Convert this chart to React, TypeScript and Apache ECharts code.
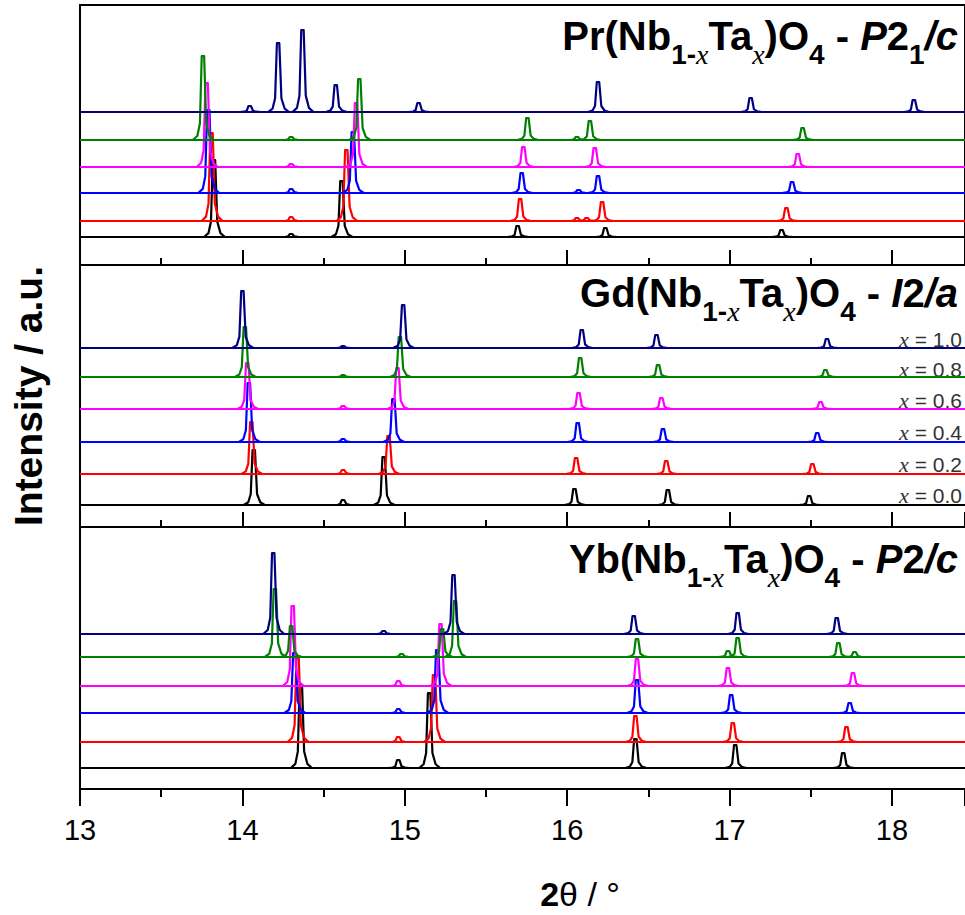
import React, { useEffect, useRef } from "react";
import * as echarts from "echarts";

// ---- axis ----
const X_MIN = 13;
const X_MAX = 18.45;
const xTickInterval = 1;

// ---- compositions (bottom to top) ----
const compositions = ["x = 0.0", "x = 0.2", "x = 0.4", "x = 0.6", "x = 0.8", "x = 1.0"];
const compositionValues = ["0.0", "0.2", "0.4", "0.6", "0.8", "1.0"];
const traceColors = ["#000000", "#FF0000", "#0000FF", "#FF00FF", "#008000", "#000080"];

// ---- Pr(Nb1-xTax)O4 : vertical offsets (a.u.) and peaks [2θ, height] ----
const prOffsets = [28, 44, 72, 98, 125, 153];
const prPeaks: number[][][] = [
  [[13.825, 77], [14.30, 3], [14.61, 56], [15.695, 11], [16.235, 9], [17.32, 7]],
  [[13.81, 88], [14.30, 4], [14.64, 71], [15.71, 22], [16.06, 3], [16.12, 3], [16.215, 19], [17.35, 13]],
  [[13.79, 83], [14.30, 4], [14.68, 61], [15.72, 20], [16.07, 3], [16.19, 17], [17.385, 11]],
  [[13.78, 84], [14.30, 3], [14.70, 64], [15.73, 20], [16.17, 19], [17.42, 13]],
  [[13.757, 84], [14.30, 3], [14.72, 61], [15.755, 22], [16.06, 3], [16.14, 19], [17.45, 12]],
  [[14.045, 6], [14.22, 69], [14.37, 82], [14.575, 27], [15.085, 9], [16.19, 30], [17.13, 14], [18.135, 12]],
];

// ---- Gd(Nb1-xTax)O4 ----
const gdOffsets = [22, 53, 85, 118, 150, 179];
const gdPeaks: number[][][] = [
  [[14.07, 55], [14.62, 5], [14.87, 48], [16.045, 16], [16.62, 15], [17.49, 9]],
  [[14.055, 52], [14.62, 4], [14.90, 38], [16.055, 16], [16.61, 13], [17.51, 10]],
  [[14.04, 59], [14.62, 3], [14.93, 43], [16.065, 19], [16.59, 13], [17.54, 9]],
  [[14.03, 46], [14.62, 3], [14.955, 41], [16.07, 16], [16.58, 11], [17.56, 7]],
  [[14.015, 50], [14.62, 2], [14.97, 40], [16.08, 19], [16.56, 12], [17.59, 7]],
  [[14.00, 57], [14.62, 2], [14.99, 43], [16.09, 18], [16.55, 13], [17.60, 9]],
];

// ---- Yb(Nb1-xTax)O4 ----
const ybOffsets = [21, 47, 76, 103, 132, 155];
const ybPeaks: number[][][] = [
  [[14.36, 83], [14.96, 8], [15.15, 75], [16.42, 29], [17.035, 23], [17.70, 15]],
  [[14.34, 84], [14.96, 5], [15.18, 67], [16.42, 26], [17.02, 19], [17.72, 15]],
  [[14.32, 60], [14.96, 4], [15.20, 63], [16.43, 33], [17.01, 18], [17.74, 10]],
  [[14.31, 80], [14.96, 5], [15.22, 62], [16.43, 27], [16.99, 18], [17.76, 13]],
  [[14.20, 68], [14.30, 31], [14.98, 3], [15.23, 28], [15.31, 56], [16.43, 18], [16.99, 6], [17.05, 19], [17.67, 14], [17.77, 5]],
  [[14.19, 81], [14.87, 3], [15.30, 59], [16.41, 18], [17.05, 21], [17.66, 16]],
];

const panelMax = [260, 262, 262];

const SANS = "'Liberation Sans', Arial, sans-serif";
const SERIF = "'Liberation Serif', 'Times New Roman', serif";

function makeTitleRich() {
  const main = { fontSize: 40, fontWeight: "bold", fontFamily: SANS, lineHeight: 44, verticalAlign: "top", fill: "#000" };
  const sub = { fontSize: 28, fontWeight: "bold", fontFamily: SANS, lineHeight: 28, padding: [24, 0, 0, 0], verticalAlign: "top", fill: "#000" };
  return {
    m: main,
    i: { ...main, fontStyle: "italic" },
    s: sub,
    sx: { ...sub, fontWeight: "normal", fontStyle: "italic", fontFamily: SERIF },
  };
}

export default function App() {
  const ref = useRef<HTMLDivElement>(null);

  useEffect(() => {
    document.body.style.margin = "0";
    if (!ref.current) return;
    const chart = echarts.init(ref.current, undefined, { renderer: "svg" });

    const grids = [
      { left: 80, top: 5, width: 886, height: 260 },
      { left: 80, top: 265, width: 886, height: 262 },
      { left: 80, top: 527, width: 886, height: 262 },
    ].map((g, i) => ({
      ...g,
      show: i === 0,
      borderColor: "#000",
      borderWidth: 2,
      backgroundColor: "transparent",
    }));

    const xAxes = [0, 1, 2].map((i) => ({
      type: "value",
      gridIndex: i,
      min: X_MIN,
      max: X_MAX,
      interval: xTickInterval,
      axisLine: { show: true, onZero: false, lineStyle: { color: "#000", width: 2 } },
      axisTick: { show: true, inside: i < 2, length: i < 2 ? 15 : 17, lineStyle: { color: "#000", width: 2 } },
      minorTick: { show: true, splitNumber: 2, length: i < 2 ? 7 : 8, lineStyle: { color: "#000", width: 2 } },
      splitLine: { show: false },
      axisLabel: {
        show: i === 2,
        fontSize: 29,
        fontFamily: SANS,
        color: "#000",
        margin: 26,
        showMaxLabel: false,
        formatter: (v: number) => (Number.isInteger(v) ? String(v) : ""),
      },
    }));

    const yAxes = [0, 1, 2].map((i) => ({
      type: "value",
      gridIndex: i,
      min: 0,
      max: panelMax[i],
      axisLine: { show: true, lineStyle: { color: "#000", width: 2 } },
      axisTick: { show: false },
      axisLabel: { show: false },
      splitLine: { show: false },
    }));

    const panels = [
      { offsets: prOffsets, peaks: prPeaks },
      { offsets: gdOffsets, peaks: gdPeaks },
      { offsets: ybOffsets, peaks: ybPeaks },
    ];

    const series: any[] = [];
    panels.forEach((panel, p) => {
      panel.offsets.forEach((off, t) => {
        const color = traceColors[t];
        series.push({
          type: "line",
          name: compositions[t],
          xAxisIndex: p,
          yAxisIndex: p,
          data: [[X_MIN, off], [X_MAX, off]],
          showSymbol: false,
          silent: true,
          lineStyle: { color, width: 2.2 },
        });
        series.push({
          type: "custom",
          name: compositions[t],
          xAxisIndex: p,
          yAxisIndex: p,
          silent: true,
          data: panel.peaks[t].map(([c, h]) => [c, h, off]),
          renderItem: (_params: any, api: any) => {
            const c = api.value(0);
            const h = api.value(1);
            const b = api.value(2);
            const p0 = api.coord([c, b]);
            const p1 = api.coord([c, b + h]);
            const x = p0[0];
            const y0 = p0[1];
            const yt = p1[1];
            const H = y0 - yt;
            return {
              type: "polyline",
              shape: {
                points: [
                  [x - 10, y0],
                  [x - 5.5, y0 - 0.05 * H],
                  [x - 3, y0 - 0.2 * H],
                  [x - 1.2, yt],
                  [x + 1.2, yt],
                  [x + 3.3, y0 - 0.2 * H],
                  [x + 6.5, y0 - 0.05 * H],
                  [x + 11, y0],
                ],
              },
              style: { stroke: color, lineWidth: 2.2, fill: null, lineJoin: "round" },
            };
          },
        });
      });
    });

    const rich = makeTitleRich();
    const titleY = [16, 273, 539];
    const titles = [
      "{m|Pr(Nb}{s|1-}{sx|x}{m|Ta}{sx|x}{m|)O}{s|4}{m| - }{i|P}{m|2}{s|1}{i|/c}",
      "{m|Gd(Nb}{s|1-}{sx|x}{m|Ta}{sx|x}{m|)O}{s|4}{m| - }{i|I}{m|2}{i|/a}",
      "{m|Yb(Nb}{s|1-}{sx|x}{m|Ta}{sx|x}{m|)O}{s|4}{m| - }{i|P}{m|2}{i|/c}",
    ];

    const legendCenters = [495, 464, 432, 400, 369, 339];

    const graphic: any[] = [
      ...titles.map((text, i) => ({
        type: "text",
        x: 958,
        y: titleY[i],
        style: { text, rich, align: "right", verticalAlign: "top" },
        silent: true,
      })),
      ...compositionValues.map((v, i) => ({
        type: "text",
        x: 962,
        y: legendCenters[i],
        style: {
          text: `{x|x}{t| = ${v}}`,
          align: "right",
          verticalAlign: "middle",
          rich: {
            x: { fontSize: 22, fontStyle: "italic", fontFamily: SERIF, fill: "#333", lineHeight: 22 },
            t: { fontSize: 21, fontFamily: SANS, fill: "#333", lineHeight: 22 },
          },
        },
        silent: true,
      })),
      {
        type: "text",
        x: 28,
        y: 396,
        rotation: Math.PI / 2,
        style: {
          text: "Intensity / a.u.",
          fontSize: 39,
          fontWeight: "bold",
          fontFamily: SANS,
          fill: "#000",
          align: "center",
          verticalAlign: "middle",
        },
        silent: true,
      },
      {
        type: "text",
        x: 580,
        y: 894,
        style: {
          text: "{b|2}{r|θ / °}",
          align: "center",
          verticalAlign: "middle",
          rich: {
            b: { fontSize: 34, fontWeight: "bold", fontFamily: SANS, fill: "#000", lineHeight: 40 },
            r: { fontSize: 34, fontFamily: SANS, fill: "#000", lineHeight: 40 },
          },
        },
        silent: true,
      },
    ];

    chart.setOption({
      animation: false,
      backgroundColor: "#fff",
      grid: grids,
      xAxis: xAxes,
      yAxis: yAxes,
      series,
      graphic,
    });

    return () => chart.dispose();
  }, []);

  return <div ref={ref} style={{ width: 965, height: 915 }} />;
}
